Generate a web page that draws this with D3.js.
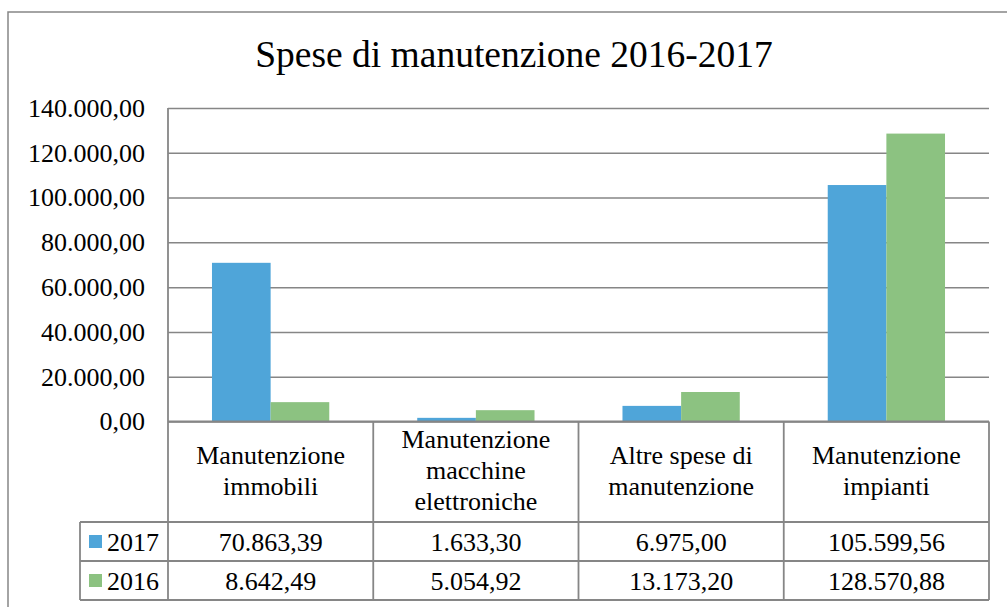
<!DOCTYPE html>
<html>
<head>
<meta charset="utf-8">
<script src="https://cdn.jsdelivr.net/npm/d3@7"></script>
<style>
  html, body { margin: 0; padding: 0; background: #fff; overflow: hidden; }
  svg { display: block; }
</style>
</head>
<body>
<svg id="chart" width="1007" height="607"></svg>
<script>
const title = "Spese di manutenzione 2016-2017";
const categories = ["Manutenzione immobili", "Manutenzione macchine elettroniche", "Altre spese di manutenzione", "Manutenzione impianti"];
const categoryLines = [["Manutenzione", "immobili"], ["Manutenzione", "macchine", "elettroniche"], ["Altre spese di", "manutenzione"], ["Manutenzione", "impianti"]];
const seriesNames = ["2017", "2016"];
const values2017 = [70863.39, 1633.30, 6975.00, 105599.56];
const values2016 = [8642.49, 5054.92, 13173.20, 128570.88];
const yTicks = [0, 20000, 40000, 60000, 80000, 100000, 120000, 140000];
const colors = ["#4FA5D9", "#8CC281"];

const FONT = "Liberation Serif";
const seriesValues = [values2017, values2016];
const it = d3.formatLocale({ decimal: ",", thousands: ".", grouping: [3], currency: ["", "€"] });
const fmt = it.format(",.2f");

const svg = d3.select("#chart");
const gridColor = "#868686";

// outer chart border (extends past the visible frame)
svg.append("rect").attr("x", 8).attr("y", 12).attr("width", 1030).attr("height", 640)
  .attr("fill", "#fff").attr("stroke", gridColor).attr("stroke-width", 1.5);

const plotL = 168, plotR = 989, plotT = 108, plotB = 421.5;
const x = d3.scaleBand().domain(categories).range([plotL, plotR]).paddingInner(0).paddingOuter(0);
const xs = d3.scaleBand().domain(seriesNames).range([0, x.bandwidth()]).paddingInner(0).paddingOuter(0.75);
const y = d3.scaleLinear().domain([0, 140000]).range([plotB, plotT]);

// title
svg.append("text").attr("x", 514).attr("y", 67).attr("text-anchor", "middle")
  .attr("font-family", FONT).attr("font-size", 37.5).attr("fill", "#000").text(title);

// gridlines + y labels
const yAxis = d3.axisLeft(y).tickValues(yTicks).tickSize(-(plotR - plotL)).tickPadding(23).tickFormat(fmt);
const gy = svg.append("g").attr("transform", `translate(${plotL},0)`).call(yAxis)
  .attr("font-family", FONT).attr("font-size", 26);
gy.select(".domain").remove();
gy.selectAll(".tick line").attr("stroke", gridColor).attr("stroke-width", 1.5);
gy.selectAll(".tick text").attr("font-family", FONT).attr("font-size", 26).attr("fill", "#000");

// bars
seriesNames.forEach((s, si) => {
  svg.append("g").selectAll("rect").data(categories).join("rect")
    .attr("x", d => x(d) + xs(s))
    .attr("width", xs.bandwidth())
    .attr("y", (d, i) => y(seriesValues[si][i]))
    .attr("height", (d, i) => plotB - y(seriesValues[si][i]))
    .attr("fill", colors[si]);
});

// table
const rowTop = plotB, headB = 522, row1B = 561, row2B = 600, legL = 80;
const tbl = svg.append("g").attr("stroke", gridColor).attr("stroke-width", 1.8).attr("fill", "none");
tbl.append("line").attr("x1", plotL).attr("x2", plotL).attr("y1", plotT).attr("y2", row2B);
categories.forEach((c) => {
  const xx = x(c) + x.bandwidth();
  tbl.append("line").attr("x1", xx).attr("x2", xx).attr("y1", rowTop).attr("y2", row2B);
});
tbl.append("line").attr("x1", plotL).attr("x2", plotR).attr("y1", rowTop).attr("y2", rowTop);
[headB, row1B, row2B].forEach(yy => {
  tbl.append("line").attr("x1", legL).attr("x2", plotR).attr("y1", yy).attr("y2", yy);
});
tbl.append("line").attr("x1", legL).attr("x2", legL).attr("y1", headB).attr("y2", row2B);

// header labels
categories.forEach((c, i) => {
  const lines = categoryLines[i];
  const cx = x(c) + x.bandwidth() / 2;
  const lh = 31;
  const mid = (rowTop + headB) / 2;
  const firstBase = mid + 7.5 - (lines.length - 1) * lh / 2;
  const t = svg.append("text").attr("text-anchor", "middle").attr("font-family", FONT)
    .attr("font-size", 26).attr("fill", "#000");
  lines.forEach((ln, k) => {
    t.append("tspan").attr("x", cx).attr("y", firstBase + k * lh).text(ln);
  });
});

// rows
const rows = [[headB, row1B], [row1B, row2B]];
seriesNames.forEach((s, si) => {
  const [t0, t1] = rows[si];
  const mid = (t0 + t1) / 2;
  svg.append("rect").attr("x", 89).attr("y", mid - 6.5).attr("width", 13).attr("height", 13).attr("fill", colors[si]);
  svg.append("text").attr("x", 107).attr("y", mid + 9).attr("font-family", FONT)
    .attr("font-size", 26).attr("fill", "#000").text(s);
  categories.forEach((c, i) => {
    svg.append("text").attr("x", x(c) + x.bandwidth() / 2).attr("y", mid + 9)
      .attr("text-anchor", "middle").attr("font-family", FONT).attr("font-size", 26).attr("fill", "#000")
      .text(fmt(seriesValues[si][i]));
  });
});
</script>
</body>
</html>
